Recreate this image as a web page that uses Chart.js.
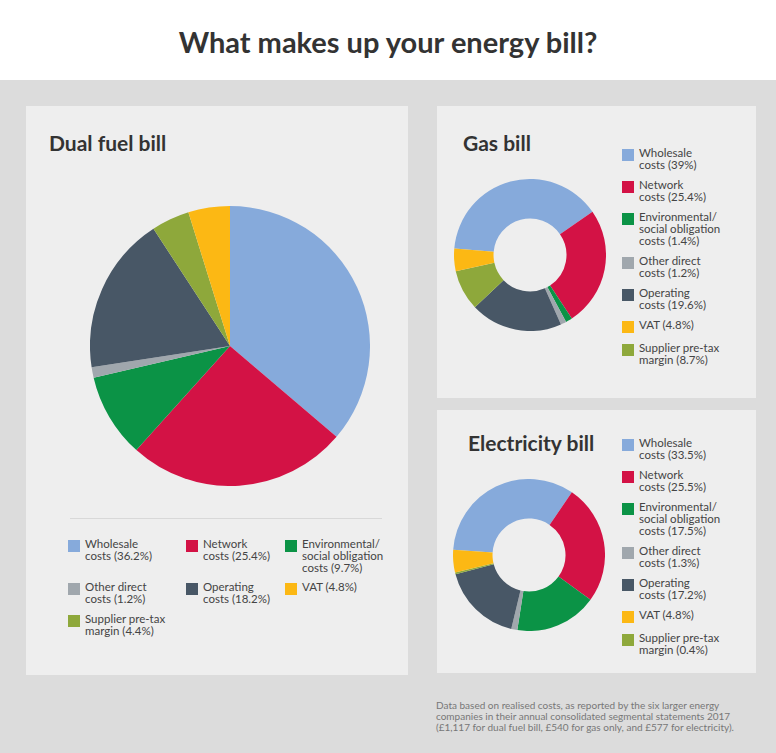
<!DOCTYPE html>
<html><head><meta charset="utf-8">
<script src="https://cdn.jsdelivr.net/npm/chart.js@4.4.0/dist/chart.umd.min.js"></script>
<style>
body{margin:0;width:776px;height:753px;background:#dcdcdc;font-family:Lato,"Open Sans",sans-serif;position:relative;overflow:hidden;color:#333}
#head{position:absolute;left:0;top:0;width:776px;height:80px;background:#fff;text-align:center;font-size:29px;font-weight:bold;line-height:84px;color:#333}
.panel{position:absolute;background:#eeeeee}
.ttl{position:absolute;font-size:21px;font-weight:bold;color:#333}
.leg{position:absolute;font-size:11.5px;line-height:12px;color:#444}
.it{position:absolute;padding-left:17px}
.sw{position:absolute;left:0;top:2px;width:12px;height:12px}
#foot{position:absolute;left:436px;top:700px;width:330px;font-size:10px;line-height:11px;color:#777}
</style></head><body>
<div id="head">What makes up your energy bill?</div>
<div class="panel" style="left:26px;top:106px;width:382px;height:569px">
  <div class="ttl" style="left:23px;top:24px">Dual fuel bill</div>
  <canvas id="dual" style="position:absolute;left:64px;top:100px;width:280px;height:280px" width="280" height="280"></canvas>
  <div style="position:absolute;left:44px;top:412px;width:312px;border-top:1px solid #d8d8d8"></div>
  <div class="leg" id="ldual" style="left:42px;top:432px"></div>
</div>
<div class="panel" style="left:437px;top:106px;width:319px;height:292px">
  <div class="ttl" style="left:26px;top:24px">Gas bill</div>
  <canvas id="gas" style="position:absolute;left:17px;top:73px;width:152px;height:152px" width="152" height="152"></canvas>
  <div class="leg" id="lgas" style="left:185px;top:41px"></div>
</div>
<div class="panel" style="left:437px;top:410px;width:319px;height:263px">
  <div class="ttl" style="left:31px;top:20px">Electricity bill</div>
  <canvas id="elec" style="position:absolute;left:16px;top:69px;width:152px;height:152px" width="152" height="152"></canvas>
  <div class="leg" id="lelec" style="left:185px;top:27px"></div>
</div>
<div id="foot">Data based on realised costs, as reported by the six larger energy companies in their annual consolidated segmental statements 2017 (£1,117 for dual fuel bill, £540 for gas only, and £577 for electricity).</div>
<script>
const categories = ["Wholesale costs", "Network costs", "Environmental/ social obligation costs", "Other direct costs", "Operating costs", "Supplier pre-tax margin", "VAT"];
const legendLabels = [["Wholesale", "costs"], ["Network", "costs"], ["Environmental/", "social obligation", "costs"], ["Other direct", "costs"], ["Operating", "costs"], ["Supplier pre-tax", "margin"], ["VAT"]];
const dualValues = [36.2, 25.4, 9.7, 1.2, 18.2, 4.4, 4.8];
const gasValues = [39, 25.4, 1.4, 1.2, 19.6, 8.7, 4.8];
const elecValues = [33.5, 25.5, 17.5, 1.3, 17.2, 0.4, 4.8];
const colors = ["#86aadb", "#d31245", "#0b9346", "#a0a7ad", "#485766", "#8ea83b", "#fcb814"];

function makeChart(id, values, type, rotation) {
  new Chart(document.getElementById(id), {
    type: type,
    data: { labels: categories, datasets: [{ data: values, backgroundColor: colors, borderWidth: 0 }] },
    options: {
      responsive: false, animation: false, rotation: rotation,
      cutout: type === "doughnut" ? "48%" : 0,
      plugins: { legend: { display: false }, tooltip: { enabled: false } }
    }
  });
}
makeChart("dual", dualValues, "pie", 0);
makeChart("gas", gasValues, "doughnut", -85);
makeChart("elec", elecValues, "doughnut", -86);

function lines(i, v) {
  const l = legendLabels[i].slice();
  l[l.length - 1] += " (" + v + "%)";
  return l.join("<br>");
}
// side legends: wholesale, network, env, other, operating, VAT, supplier
const sideOrder = [0, 1, 2, 3, 4, 6, 5];
function sideLegend(id, values) {
  let y = 0, html = "";
  sideOrder.forEach(i => {
    html += `<div class="it" style="left:0;top:${y}px;width:130px"><span class="sw" style="background:${colors[i]}"></span>${lines(i, values[i])}</div>`;
    y += legendLabels[i].length === 1 ? 23 : legendLabels[i].length === 3 ? 44 : 32;
  });
  document.getElementById(id).innerHTML = html;
}
sideLegend("lgas", gasValues);
sideLegend("lelec", elecValues);

const dualPos = [[0, 0, 0], [1, 118, 0], [2, 217, 0], [3, 0, 43], [4, 118, 43], [6, 217, 43], [5, 0, 75]];
document.getElementById("ldual").innerHTML = dualPos.map(([i, x, y]) =>
  `<div class="it" style="left:${x}px;top:${y}px;width:100px"><span class="sw" style="background:${colors[i]}"></span>${lines(i, dualValues[i])}</div>`).join("");
</script>
</body></html>
